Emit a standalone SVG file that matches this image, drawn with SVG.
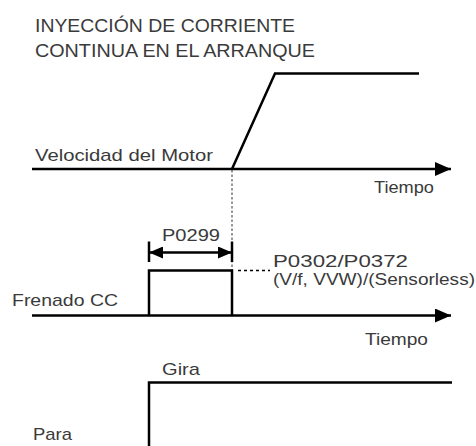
<svg xmlns="http://www.w3.org/2000/svg" width="476" height="446" viewBox="0 0 476 446">
<style>
text{font-family:"Liberation Sans",Arial,sans-serif;font-size:17px;fill:#3a3a3a;}
.title{font-size:19px;}
.sm{font-size:16px;}
.ln{fill:none;stroke:#000;stroke-width:2.5;}
.dash{fill:none;stroke:#333;stroke-width:1;stroke-dasharray:2.5 2;}
.dot{fill:none;stroke:#000;stroke-width:1.5;stroke-dasharray:3 3;}
</style>
<defs>
<marker id="arr" viewBox="0 0 16 14" refX="16" refY="7" markerWidth="16" markerHeight="14" markerUnits="userSpaceOnUse" orient="auto">
<path d="M0,0 L16,7 L0,14 Z" fill="#000"/>
</marker>
<marker id="dim" viewBox="0 0 14 12" refX="14" refY="6" markerWidth="14" markerHeight="12" markerUnits="userSpaceOnUse" orient="auto-start-reverse">
<path d="M0,0 L14,6 L0,12 Z" fill="#000"/>
</marker>
</defs>
<g id="title">
<text class="title" x="35" y="32" textLength="260" lengthAdjust="spacingAndGlyphs">INYECCIÓN DE CORRIENTE</text>
<text class="title" x="35" y="57" textLength="280" lengthAdjust="spacingAndGlyphs">CONTINUA EN EL ARRANQUE</text>
</g>
<g id="velocidad">
<text x="35" y="160.5" textLength="178" lengthAdjust="spacingAndGlyphs">Velocidad del Motor</text>
<text x="374" y="193" textLength="60" lengthAdjust="spacingAndGlyphs">Tiempo</text>
</g>
<g id="frenado">
<text x="162" y="241" textLength="58" lengthAdjust="spacingAndGlyphs">P0299</text>
<text class="sm" x="273" y="266.5" textLength="135" lengthAdjust="spacingAndGlyphs">P0302/P0372</text>
<text class="sm" x="273" y="285" textLength="202" lengthAdjust="spacingAndGlyphs">(V/f, VVW)/(Sensorless)</text>
<text x="12" y="306" textLength="106" lengthAdjust="spacingAndGlyphs">Frenado CC</text>
<text x="365" y="345" textLength="63" lengthAdjust="spacingAndGlyphs">Tiempo</text>
</g>
<g id="giro">
<text x="162" y="375" textLength="38" lengthAdjust="spacingAndGlyphs">Gira</text>
<text x="33" y="440" textLength="39" lengthAdjust="spacingAndGlyphs">Para</text>
</g>
<g id="connectors">
<line class="ln" x1="32" y1="169" x2="451" y2="169" marker-end="url(#arr)"/>
<polyline class="ln" points="232,169 275,73.5 419,73.5"/>
<line class="dash" x1="232" y1="170" x2="232" y2="270"/>
<line class="ln" x1="149" y1="241.5" x2="149" y2="262" stroke-width="1.5"/>
<line class="ln" x1="232" y1="241.5" x2="232" y2="262" stroke-width="1.5"/>
<line class="ln" x1="149" y1="252.5" x2="232" y2="252.5" marker-start="url(#dim)" marker-end="url(#dim)"/>
<polyline class="ln" points="149,315.5 149,270.5 232,270.5 232,315.5"/>
<line class="dot" x1="238" y1="270.5" x2="270" y2="270.5"/>
<line class="ln" x1="32" y1="315.5" x2="451" y2="315.5" marker-end="url(#arr)"/>
<polyline class="ln" points="149,446 149,382.5 452,382.5"/>
</g>
</svg>
